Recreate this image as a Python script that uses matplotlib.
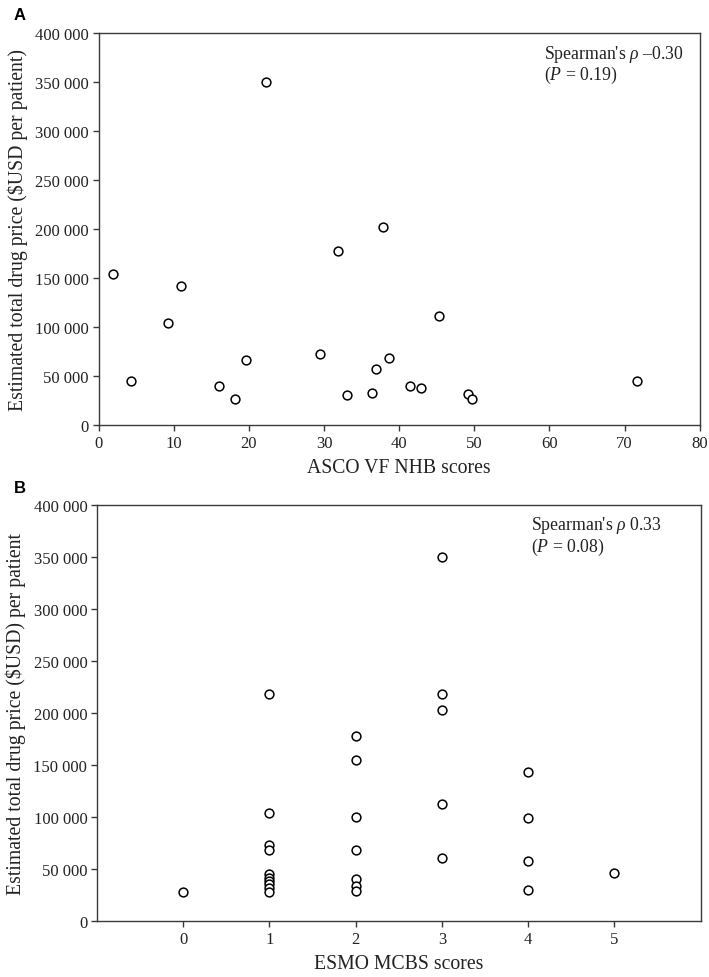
import matplotlib
matplotlib.use("Agg")
import matplotlib.pyplot as plt
from matplotlib.ticker import FuncFormatter

plt.rcParams['font.family'] = ['Liberation Serif', 'DejaVu Serif']
plt.rcParams['mathtext.fontset'] = 'custom'
plt.rcParams['mathtext.rm'] = 'Liberation Serif'
plt.rcParams['mathtext.it'] = 'Liberation Serif:italic'

# Panel A: ASCO VF NHB scores vs estimated price
asco_scores = [1.95, 4.3, 9.2, 10.9, 16.0, 18.1, 19.6, 22.3, 29.5, 31.8, 33.0,
               37.9, 45.3, 38.7, 36.9, 36.4, 41.4, 42.9, 49.2, 49.7, 71.6]
asco_prices = [154500, 45100, 103900, 142200, 39700, 27100, 66500, 349500, 72300, 177300, 30600,
               202000, 111700, 68900, 57700, 32600, 39700, 38300, 31600, 27100, 45100]

# Panel B: ESMO MCBS scores vs estimated price
esmo_scores = [0,
               1, 1, 1, 1, 1, 1, 1, 1, 1, 1,
               2, 2, 2, 2, 2, 2, 2,
               3, 3, 3, 3, 3,
               4, 4, 4, 4,
               5]
esmo_prices = [28200,
               218500, 103500, 73000, 68000, 45500, 41300, 38500, 35300, 31700, 27500,
               178000, 154800, 100300, 68500, 40400, 34000, 28600,
               349300, 218500, 202600, 112200, 60900,
               143000, 99300, 58000, 30100,
               46200]

yticks = [0, 50000, 100000, 150000, 200000, 250000, 300000, 350000, 400000]
asco_xticks = [0, 10, 20, 30, 40, 50, 60, 70, 80]
esmo_xticks = [0, 1, 2, 3, 4, 5]

fmt = FuncFormatter(lambda v, p: f"{v:,.0f}".replace(",", " "))

W, H = 709, 978
fig = plt.figure(figsize=(W / 100, H / 100), dpi=100)

axA = fig.add_axes([98.7 / W, 1 - 426.3 / H, 601 / W, 392.6 / H])
axB = fig.add_axes([97 / W, 1 - 922 / H, 603.7 / W, 416.3 / H])

spine_color = '#3a3a3a'
for ax in (axA, axB):
    for s in ax.spines.values():
        s.set_color(spine_color)
        s.set_linewidth(1.0)
    ax.tick_params(direction='out', length=4, width=1.0, color=spine_color,
                   labelsize=12, labelcolor='#222222', top=False, right=False, pad=3)
    ax.yaxis.set_major_formatter(fmt)
    ax.set_yticks(yticks)
    ax.set_ylim(0, 400000)

axA.scatter(asco_scores, asco_prices, s=40, facecolors='white', edgecolors='black', linewidths=1.1, zorder=3)
axA.set_xlim(0, 80)
axA.set_xticks(asco_xticks)
axA.set_xlabel('ASCO VF NHB scores', fontsize=14.2, labelpad=5, color='#222222')
axA.set_ylabel('Estimated total drug price ($USD per patient)', fontsize=14.2, labelpad=5, color='#222222')
axA.text(0.741, 0.975, "Spearman's $\\rho$ \u20130.30\n($P$ = 0.19)", transform=axA.transAxes,
         ha='left', va='top', fontsize=12.8, linespacing=1.05, color='#222222')

axB.scatter(esmo_scores, esmo_prices, s=40, facecolors='white', edgecolors='black', linewidths=1.1, zorder=3)
axB.set_xlim(-1, 6)
axB.set_xticks(esmo_xticks)
axB.set_xlabel('ESMO MCBS scores', fontsize=14.2, labelpad=5, color='#222222')
axB.set_ylabel('Estimated total drug price ($USD) per patient', fontsize=14.2, labelpad=5, color='#222222')
axB.text(0.719, 0.977, "Spearman's $\\rho$ 0.33\n($P$ = 0.08)", transform=axB.transAxes,
         ha='left', va='top', fontsize=12.8, linespacing=1.05, color='#222222')

fig.text(14 / W, 1 - 15 / H, 'A', fontsize=12, fontweight='bold', family='Liberation Sans', ha='left', va='center')
fig.text(14 / W, 1 - 489 / H, 'B', fontsize=12, fontweight='bold', family='Liberation Sans', ha='left', va='center')

fig.savefig('out.png', dpi=100)
